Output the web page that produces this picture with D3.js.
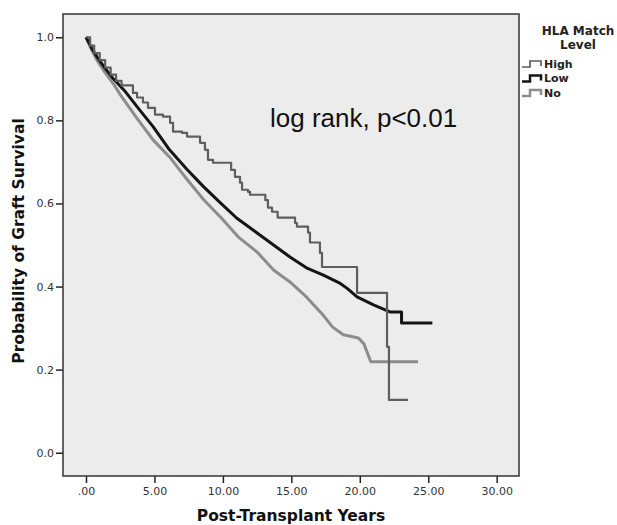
<!DOCTYPE html>
<html>
<head>
<meta charset="utf-8">
<script src="https://cdn.jsdelivr.net/npm/d3@7"></script>
<style>
  body { margin: 0; background: #fff; }
  svg { display: block; }
</style>
</head>
<body>
<svg id="chart" width="617" height="525"></svg>
<script>
// [years, survival]
const highCurve = [
  [0, 1.0], [0.3, 0.98], [0.6, 0.962], [1.0, 0.945], [1.4, 0.927], [1.8, 0.91],
  [2.2, 0.895], [2.6, 0.884],
  [3.43, 0.866], [3.73, 0.855], [4.16, 0.843], [4.53, 0.830], [5.04, 0.814],
  [5.62, 0.809], [6.14, 0.794], [6.36, 0.773], [7.01, 0.770], [7.38, 0.761],
  [8.33, 0.746], [8.69, 0.729], [8.91, 0.705], [9.28, 0.698], [10.6, 0.681],
  [10.88, 0.664], [11.25, 0.650], [11.4, 0.633], [11.83, 0.628], [11.98, 0.621],
  [13.1, 0.608], [13.29, 0.590], [13.59, 0.580], [14.0, 0.566], [15.27, 0.553],
  [15.41, 0.544], [16.22, 0.530], [16.36, 0.506], [17.09, 0.481], [17.24, 0.447],
  [19.8, 0.385], [21.99, 0.255], [22.13, 0.127], [23.52, 0.127]
];
const lowCurve = [
  [0, 1.0], [0.4, 0.975], [0.8, 0.953], [1.4, 0.925], [2.0, 0.900], [2.8, 0.872],
  [3.9, 0.826], [4.9, 0.785], [6.1, 0.729], [7.4, 0.681], [8.6, 0.640],
  [9.8, 0.602], [11.0, 0.565], [12.5, 0.529], [13.7, 0.500], [14.9, 0.471],
  [16.1, 0.445], [17.3, 0.428], [18.5, 0.409], [19.1, 0.395], [19.8, 0.375],
  [21.0, 0.356], [22.2, 0.339], [23.05, 0.339], [23.05, 0.312], [25.3, 0.312]
];
const noCurve = [
  [0, 1.0], [0.4, 0.97], [0.8, 0.945], [1.4, 0.915], [2.0, 0.888], [2.5, 0.862],
  [3.7, 0.806], [4.9, 0.753], [6.1, 0.712], [7.4, 0.657], [8.6, 0.609],
  [9.8, 0.568], [11.2, 0.517], [12.5, 0.483], [13.7, 0.440], [14.9, 0.411],
  [16.1, 0.375], [17.3, 0.332], [18.0, 0.303], [18.8, 0.284], [19.9, 0.276],
  [20.3, 0.262], [20.5, 0.245], [20.8, 0.219], [24.25, 0.219]
];

const xTicks = [0, 5, 10, 15, 20, 25, 30];
const yTicks = [0, 0.2, 0.4, 0.6, 0.8, 1.0];
const legendLabels = ["High", "Low", "No"];

const svg = d3.select("#chart");
const plot = { left: 63, right: 519, top: 14, bottom: 476 };

const x = d3.scaleLinear().domain([-1.68, 31.63]).range([plot.left, plot.right]);
const y = d3.scaleLinear().domain([-0.056, 1.056]).range([plot.bottom, plot.top]);

svg.append("rect")
  .attr("x", plot.left)
  .attr("y", plot.top)
  .attr("width", plot.right - plot.left)
  .attr("height", plot.bottom - plot.top)
  .attr("fill", "#ececec");

const xAxis = d3.axisBottom(x)
  .tickValues(xTicks)
  .tickSize(7)
  .tickPadding(4)
  .tickFormat(d => d3.format(".2f")(d).replace(/^0/, ""));

svg.append("g")
  .attr("transform", `translate(0, ${plot.bottom})`)
  .call(xAxis)
  .call(g => g.select(".domain").remove());

const yAxis = d3.axisLeft(y)
  .tickValues(yTicks)
  .tickSize(7)
  .tickPadding(2)
  .tickFormat(d3.format(".1f"));

svg.append("g")
  .attr("transform", `translate(${plot.left}, 0)`)
  .call(yAxis)
  .call(g => g.select(".domain").remove());

svg.selectAll(".tick line").attr("stroke", "#222").attr("stroke-width", 1.5);
svg.selectAll(".tick text")
  .attr("font-family", "DejaVu Sans")
  .attr("font-size", 11)
  .attr("fill", "#333");

svg.append("rect")
  .attr("x", plot.left)
  .attr("y", plot.top)
  .attr("width", plot.right - plot.left)
  .attr("height", plot.bottom - plot.top)
  .attr("fill", "none")
  .attr("stroke", "#333")
  .attr("stroke-width", 1.5);

const stepLine = d3.line().x(d => x(d[0])).y(d => y(d[1])).curve(d3.curveStepAfter);
const smoothLine = d3.line().x(d => x(d[0])).y(d => y(d[1]));

const series = [
  { name: "No", data: noCurve, color: "#8c8c8c", width: 3, line: smoothLine },
  { name: "Low", data: lowCurve, color: "#151515", width: 3, line: smoothLine },
  { name: "High", data: highCurve, color: "#5e5e5e", width: 2.2, line: stepLine }
];

svg.append("g")
  .selectAll("path")
  .data(series)
  .enter()
  .append("path")
  .attr("d", s => s.line(s.data))
  .attr("fill", "none")
  .attr("stroke", s => s.color)
  .attr("stroke-width", s => s.width)
  .attr("stroke-linejoin", "round");

svg.append("text")
  .attr("x", 270)
  .attr("y", 127)
  .attr("font-family", "Liberation Sans")
  .attr("font-size", 26)
  .attr("fill", "#111")
  .text("log rank, p<0.01");

svg.append("text")
  .attr("x", 291)
  .attr("y", 521)
  .attr("text-anchor", "middle")
  .attr("font-family", "DejaVu Sans")
  .attr("font-weight", "bold")
  .attr("font-size", 15.5)
  .attr("fill", "#111")
  .text("Post-Transplant Years");

svg.append("text")
  .attr("transform", "translate(24, 241) rotate(-90)")
  .attr("text-anchor", "middle")
  .attr("font-family", "DejaVu Sans")
  .attr("font-weight", "bold")
  .attr("font-size", 15.5)
  .attr("fill", "#111")
  .text("Probability of Graft Survival");

// legend
const legend = svg.append("g");
legend.selectAll(".title")
  .data(["HLA Match", "Level"])
  .enter()
  .append("text")
  .attr("x", 578)
  .attr("y", (_, i) => 35 + i * 14)
  .attr("text-anchor", "middle")
  .attr("font-family", "DejaVu Sans")
  .attr("font-weight", "bold")
  .attr("font-size", 12)
  .attr("fill", "#222")
  .text(d => d);

const legendItems = legend.selectAll(".item")
  .data(legendLabels.map(l => series.find(s => s.name === l)))
  .enter()
  .append("g")
  .attr("transform", (_, i) => `translate(522, ${64 + i * 14.5})`);

legendItems.append("path")
  .attr("d", "M0,3H8V-3H19V2")
  .attr("fill", "none")
  .attr("stroke", s => s.color)
  .attr("stroke-width", s => s.width - 0.5);

legendItems.append("text")
  .attr("x", 22)
  .attr("dy", "0.35em")
  .attr("font-family", "DejaVu Sans")
  .attr("font-weight", "bold")
  .attr("font-size", 11)
  .attr("fill", "#222")
  .text(s => s.name);
</script>
</body>
</html>
